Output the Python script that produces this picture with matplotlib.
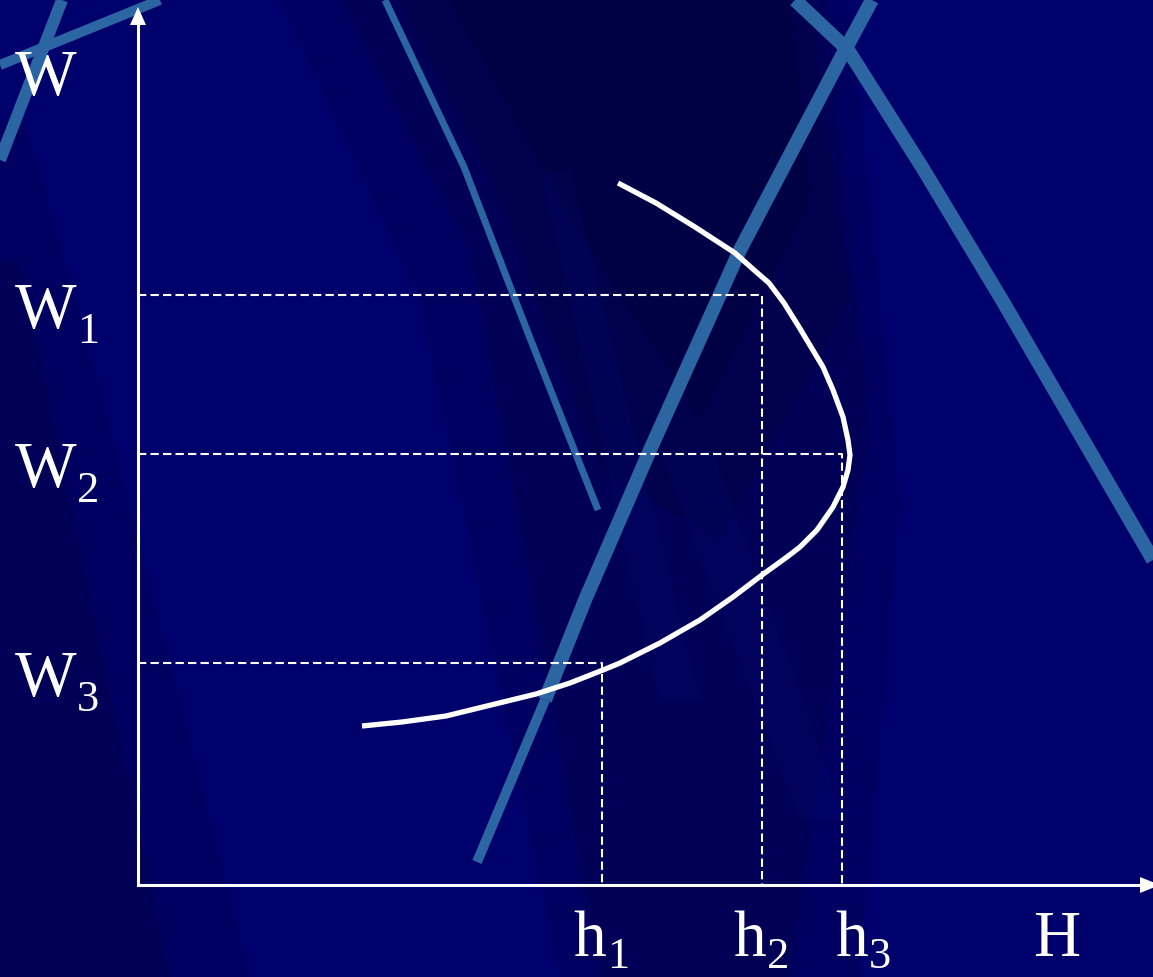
import matplotlib
matplotlib.use("Agg")
import matplotlib.pyplot as plt
from matplotlib.patches import Polygon
import numpy as np

plt.rcParams['font.family'] = ['Liberation Serif', 'DejaVu Serif']
plt.rcParams['lines.scale_dashes'] = False

# origin of the H-W axes on the picture (pixels)
X0, Y0 = 138, 885

# curve W(H), in chart units (px from origin)
curve_h = [480, 518, 557, 597, 616, 631, 646, 661, 673, 685, 695, 705, 710,
           712, 710, 705, 695, 679, 662, 649, 624, 595, 562, 522, 482, 465,
           432, 398, 353, 308, 264, 224]
curve_w = [702, 682, 658, 632, 615, 602, 582, 558, 538, 518, 495, 468, 445,
           430, 415, 398, 378, 355, 338, 328, 310, 288, 265, 242, 222, 215,
           202, 191, 180, 169, 163, 159]

# marked levels W1..W3 and the H where each meets the curve
w_levels = [590, 431, 222]
h_at_w = [624, 704, 464]
w_subs = ['1', '2', '3']

# H-axis labels and where they sit
h_subs = ['1', '2', '3']
h_label_x = [435, 595, 697]

bg = '#00006c'
streak = '#2b65a2'

fig = plt.figure(figsize=(11.53, 9.77), dpi=100)
fig.patch.set_facecolor(bg)
ax = fig.add_axes([0, 0, 1, 1])
ax.set_xlim(0, 1153)
ax.set_ylim(977, 0)
ax.axis('off')
ax.set_facecolor(bg)


def to_px(h, w):
    return X0 + np.asarray(h), Y0 - np.asarray(w)


# background shading (decoration), layered dark veils
shade = [
    [(280, 0), (850, 0), (900, 500), (860, 977), (560, 977), (420, 300)],
    [(340, 0), (825, 0), (870, 420), (790, 977), (600, 977), (470, 250)],
    [(400, 0), (810, 0), (850, 300), (720, 540), (600, 470), (500, 200)],
    [(450, 0), (790, 0), (810, 200), (700, 420), (560, 200)],
    [(0, 120), (25, 120), (103, 400), (250, 977), (0, 977)],
    [(0, 260), (20, 260), (170, 977), (0, 977)],
]
for pts in shade:
    ax.add_patch(Polygon(pts, closed=True, color='black', alpha=0.1, lw=0, zorder=0))

# faint lighter bands
glow = [
    [(540, 170), (570, 170), (700, 700), (660, 700)],
    [(660, 450), (713, 450), (845, 820), (800, 820)],
]
for pts in glow:
    ax.add_patch(Polygon(pts, closed=True, color='#1030c0', alpha=0.06, lw=0, zorder=0))

# light streaks (decoration)
streaks = [
    ([(0, 160), (62, 0)], 12),
    ([(0, 65), (160, 0)], 10),
    ([(385, 0), (464, 167), (528, 333), (598, 510)], 7),
    ([(872, 0), (845, 50), (740, 250), (650, 450), (585, 600), (545, 700)], 14),
    ([(545, 700), (477, 862)], 10),
    ([(795, 0), (848, 50), (922, 167), (1002, 300), (1153, 560)], 14),
]
for pts, lw in streaks:
    xs = [p[0] for p in pts]
    ys = [p[1] for p in pts]
    ax.plot(xs, ys, color=streak, lw=lw * 0.72, solid_capstyle='butt',
            solid_joinstyle='round', zorder=1)

# axes with arrow heads
ax.plot([X0, X0], [Y0, 20], color='white', lw=2.2, zorder=3)
ax.plot([X0, 1145], [Y0, Y0], color='white', lw=2.2, zorder=3)
ax.add_patch(Polygon([(X0, 7), (X0 - 8, 25), (X0 + 8, 25)], closed=True,
                     color='white', lw=0, zorder=3))
ax.add_patch(Polygon([(1160, Y0), (1140, Y0 - 8), (1140, Y0 + 8)], closed=True,
                     color='white', lw=0, zorder=3))

# dashed guide lines
for wl, hl in zip(w_levels, h_at_w):
    x1, y1 = to_px(hl, wl)
    ax.plot([X0, x1, x1], [y1, y1, Y0], color='white', lw=1.5,
            dashes=(6, 3), zorder=2)

# the curve
cx, cy = to_px(curve_h, curve_w)
ax.plot(cx, cy, color='white', lw=3.8, solid_joinstyle='round',
        solid_capstyle='butt', zorder=4)

# labels
big = 47
small = 32
ax.text(15, 95, 'W', color='white', fontsize=big, ha='left', va='baseline')
for wl, lab in zip(w_levels, w_subs):
    yb = Y0 - wl + 33
    ax.text(15, yb, 'W', color='white', fontsize=big, ha='left', va='baseline')
    ax.text(77, yb + 15, lab, color='white', fontsize=small, ha='left', va='baseline')

for hx, lab in zip(h_label_x, h_subs):
    xl = X0 + hx
    ax.text(xl, 956, 'h', color='white', fontsize=big, ha='left', va='baseline')
    ax.text(xl + 34, 968, lab, color='white', fontsize=small, ha='left', va='baseline')
ax.text(1033, 956, 'H', color='white', fontsize=big, ha='left', va='baseline')

fig.savefig('out.png', dpi=100, facecolor=bg)
